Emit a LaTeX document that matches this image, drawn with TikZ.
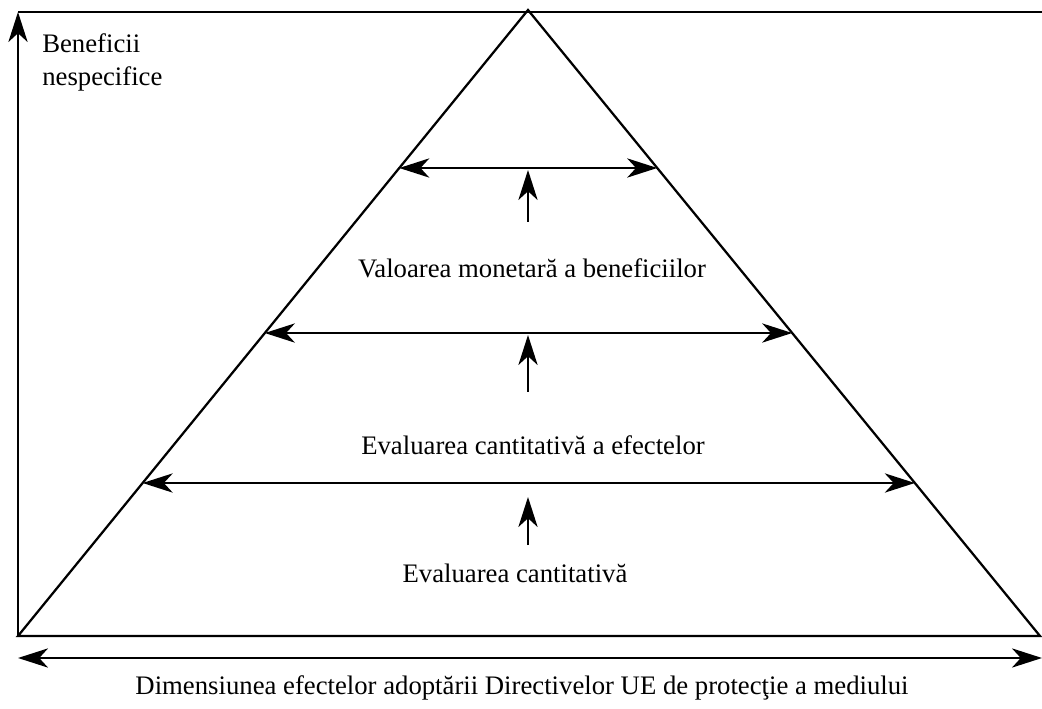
\documentclass[tikz,border=0pt]{standalone}
\usepackage{fontspec}
\setmainfont{Liberation Serif}
\usetikzlibrary{arrows.meta, calc}

\begin{document}
\begin{tikzpicture}[x=0.025cm, y=-0.025cm, font=\fontsize{19}{24}\selectfont]

    \tikzstyle{line} = [line width=1.6pt]
    \tikzstyle{arrow} = [line, -{Stealth[length=7.5mm, width=4.8mm, inset=2.2mm]}]
    \tikzstyle{twoway} = [line, {Stealth[length=7.5mm, width=4.8mm, inset=2.2mm]}-{Stealth[length=7.5mm, width=4.8mm, inset=2.2mm]}]
    \tikzstyle{level} = [inner sep=0pt]

    \useasboundingbox (0,0) rectangle (1042,709);

    % Corners of the pyramid
    \coordinate (apex) at (528,10);
    \coordinate (bl) at (18,636);
    \coordinate (br) at (1040,636);

    % Axes
    \coordinate (ytop) at (18,12);
    \coordinate (xend) at (1042,12);
    \coordinate (xl) at (18,658);
    \coordinate (xr) at (1042,658);

    \draw[arrow] (bl) -- (ytop);
    \draw[line] (ytop) -- (xend);
    \draw[line] (bl) -- (apex) -- (br) -- cycle;
    \draw[twoway] (xl) -- (xr);

    % Ends of the level arrows on the sides
    \coordinate (l1) at ($(apex)!0.2524!(bl)$);
    \coordinate (r1) at ($(apex)!0.2524!(br)$);
    \coordinate (l2) at ($(apex)!0.5160!(bl)$);
    \coordinate (r2) at ($(apex)!0.5160!(br)$);
    \coordinate (l3) at ($(apex)!0.7556!(bl)$);
    \coordinate (r3) at ($(apex)!0.7556!(br)$);

    % Feet and heads of the upward arrows
    \coordinate (f1) at (528,222);
    \coordinate (h1) at (528,170);
    \coordinate (f2) at (528,392);
    \coordinate (h2) at (528,335);
    \coordinate (f3) at (528,545);
    \coordinate (h3) at (528,497);

    % Labels
    \node[level] (val) at (532,268) {Valoarea monetară a beneficiilor};
    \node[level] (efe) at (533,445) {Evaluarea cantitativă a efectelor};
    \node[level] (can) at (515,573) {Evaluarea cantitativă};
    \node[level, anchor=north west, align=left] (ben) at (42,33) {Beneficii\\nespecifice};
    \node[level] (dim) at (522,688) {Dimensiunea efectelor adoptării Directivelor UE de protecţie a mediului};

    % Level arrows
    \draw[twoway] (l1) -- (r1);
    \draw[twoway] (l2) -- (r2);
    \draw[twoway] (l3) -- (r3);
    \draw[arrow] (f1) -- (h1);
    \draw[arrow] (f2) -- (h2);
    \draw[arrow] (f3) -- (h3);

\end{tikzpicture}
\end{document}
